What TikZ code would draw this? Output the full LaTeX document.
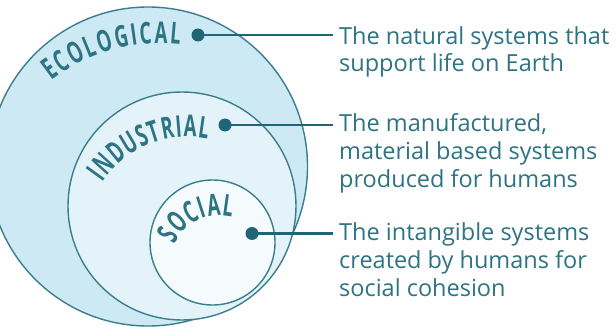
\documentclass[tikz,border=0pt]{standalone}
\usepackage{fontspec}
\setmainfont{Open Sans}
\newfontfamily\arcfont[FakeStretch=0.62, BoldFeatures={FakeStretch=0.62}]{Open Sans}
\usetikzlibrary{decorations.text}
\definecolor{tealdot}{HTML}{1E6676}
\definecolor{tealtxt}{HTML}{2C7383}
\definecolor{ringcol}{HTML}{3A7E8C}
\definecolor{ecofill}{HTML}{CDE9F4}
\definecolor{indfill}{HTML}{E3F3F9}
\definecolor{socfill}{HTML}{F5FBFD}
\begin{document}
\begin{tikzpicture}[x=1pt, y=1pt,
  ring/.style={circle, draw=ringcol, line width=1.4pt, inner sep=0pt},
  dot/.style={circle, fill=tealdot, inner sep=0pt, minimum size=13pt},
  link/.style={draw=tealdot, line width=2.4pt},
  desc/.style={anchor=base west, inner xsep=6pt, inner ysep=0pt, align=left, text=tealtxt, font=\fontsize{23.5}{28}\selectfont},
  arclabel/.style={decorate, decoration={text along path, text align=fit to path, text color=tealtxt, text={|\arcfont\bfseries\fontsize{30}{30}\selectfont|#1}}}]
\useasboundingbox (0,0) rectangle (616,330);
\clip (0,0) rectangle (616,330);
% Circulos
\node [ring, fill=ecofill, minimum size=319pt] (eco) at (148,163.5) {};
\node [ring, fill=indfill, minimum size=228pt] (ind) at (182,124) {};
\node [ring, fill=socfill, minimum size=125pt] (soc) at (212.5,87.5) {};
% Rotulos en arco
\coordinate (ecoArc) at (160,110);
\coordinate (indArc) at (188,89.4);
\coordinate (socArc) at (220,65.2);
\path [arclabel=ECOLOGICAL] ([shift={(128:176.5pt)}]ecoArc) arc [start angle=128, end angle=83.5, radius=176.5pt];
\path [arclabel=INDUSTRIAL] ([shift={(146:103.5pt)}]indArc) arc [start angle=146, end angle=79, radius=103.5pt];
\path [arclabel=SOCIAL] ([shift={(156:49.5pt)}]socArc) arc [start angle=156, end angle=76, radius=49.5pt];
% Puntos
\node [dot] (ecoDot) at (198,295) {};
\node [dot] (indDot) at (225,205) {};
\node [dot] (socDot) at (252,96.5) {};
% Textos (ancla en la ultima linea)
\node [desc] (ecoTxt) at (333,258) {The natural systems that\\support life on Earth};
\node [desc] (indTxt) at (333,143) {The manufactured,\\material based systems\\produced for humans};
\node [desc] (socTxt) at (333,33.5) {The intangible systems\\created by humans for\\social cohesion};
% Lineas
\draw [link] (ecoDot.center) -- (ecoDot -| ecoTxt.west);
\draw [link] (indDot.center) -- (indDot -| indTxt.west);
\draw [link] (socDot.center) -- (socDot -| socTxt.west);
\end{tikzpicture}
\end{document}
